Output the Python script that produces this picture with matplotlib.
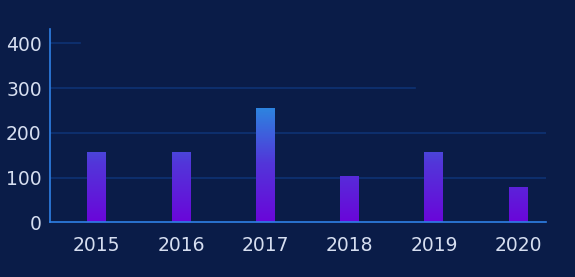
import numpy as np
import matplotlib
matplotlib.use("Agg")
import matplotlib.pyplot as plt
from matplotlib.colors import LinearSegmentedColormap

# data
years = ['2015', '2016', '2017', '2018', '2019', '2020']
values = [157, 157, 255, 103, 157, 79]
y_ticks = [0, 100, 200, 300, 400]

bg = '#0a1c48'
axis_blue = '#2f80e6'
grid_blue = '#0e3274'
text_col = '#d6def0'

plt.rcParams['font.family'] = ['DejaVu Sans']

fig = plt.figure(figsize=(5.75, 2.77), dpi=100, facecolor=bg)
ax = fig.add_axes([0.087, 0.197, 0.8626, 0.698])
ax.set_facecolor(bg)

x = np.arange(len(years))

# gridlines (partly drawn, as in the reference)
grid_ext = {100: 1.0, 200: 1.0, 300: 0.736, 400: 0.06}
for yv, xm in grid_ext.items():
    ax.axhline(yv, xmin=0, xmax=xm, color=grid_blue, lw=1.2, zorder=0)

# bars with a value-mapped gradient
cmap = LinearSegmentedColormap.from_list('g', ['#6a06da', '#5236d9', '#2a8ae0'])
bars = ax.bar(x, values, width=0.225, color='none', zorder=2)
grad = np.linspace(0, 1, 256).reshape(-1, 1)
for b in bars:
    im = ax.imshow(grad, cmap=cmap, origin='lower', aspect='auto',
                   extent=(b.get_x(), b.get_x() + b.get_width(), 0, 262),
                   zorder=2)
    im.set_clip_path(b)
ax.set_xlim(-0.554, 5.33)
ax.set_ylim(0, 432)

for s in ['top', 'right']:
    ax.spines[s].set_visible(False)
ax.spines['left'].set_color(axis_blue)
ax.spines['bottom'].set_color(axis_blue)
ax.spines['left'].set_linewidth(1.2)
ax.spines['bottom'].set_linewidth(1.2)

ax.set_xticks(x)
ax.set_xticklabels(years)
ax.set_yticks(y_ticks)
ax.tick_params(axis='both', length=0, colors=text_col, labelsize=13.5)
ax.tick_params(axis='x', pad=10)
ax.tick_params(axis='y', pad=6)

fig.savefig('out.png', dpi=100, facecolor=bg)
